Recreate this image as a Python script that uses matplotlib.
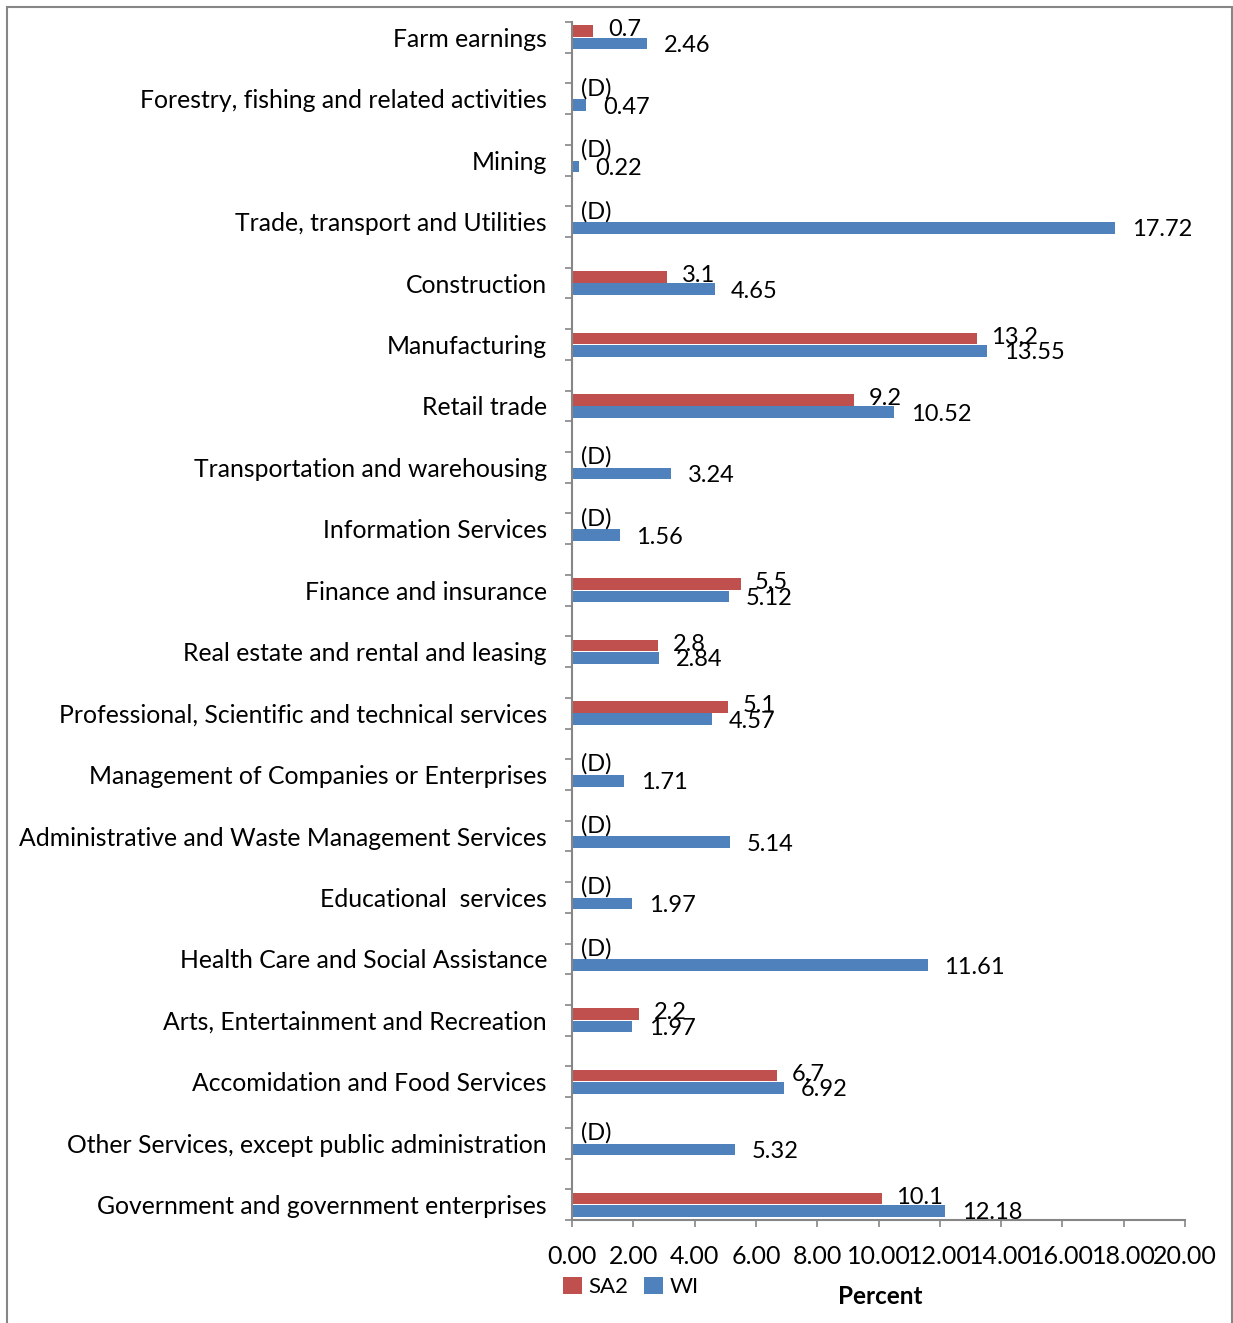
import matplotlib
matplotlib.use("Agg")
import matplotlib.pyplot as plt
from matplotlib.patches import Rectangle

plt.rcParams['font.family'] = ['Lato', 'DejaVu Sans']

categories = [
    "Farm earnings",
    "Forestry, fishing and related activities",
    "Mining",
    "Trade, transport and Utilities",
    "Construction",
    "Manufacturing",
    "Retail trade",
    "Transportation and warehousing",
    "Information Services",
    "Finance and insurance",
    "Real estate and rental and leasing",
    "Professional, Scientific and technical services",
    "Management of Companies or Enterprises",
    "Administrative and Waste Management Services",
    "Educational  services",
    "Health Care and Social Assistance",
    "Arts, Entertainment and Recreation",
    "Accomidation and Food Services",
    "Other Services, except public administration",
    "Government and government enterprises",
]
# None = suppressed value, shown as "(D)"
sa2 = [0.7, None, None, None, 3.1, 13.2, 9.2, None, None, 5.5,
       2.8, 5.1, None, None, None, None, 2.2, 6.7, None, 10.1]
wi = [2.46, 0.47, 0.22, 17.72, 4.65, 13.55, 10.52, 3.24, 1.56, 5.12,
      2.84, 4.57, 1.71, 5.14, 1.97, 11.61, 1.97, 6.92, 5.32, 12.18]
x_ticks = [0, 2, 4, 6, 8, 10, 12, 14, 16, 18, 20]

red = '#C0504D'
blue = '#4F81BD'
gray = '#868686'
fs_cat = 17.8
fs_val = 17

W, H = 1233, 1323
fig = plt.figure(figsize=(W / 100, H / 100), dpi=100)
ax = fig.add_axes([572 / W, 1 - 1220 / H, (1185 - 572) / W, (1220 - 22) / H])

# every category sits in its own slot with an empty slot between them
ypos = [2 * i for i in range(len(categories))]
sa2_vals = [v if v is not None else 0 for v in sa2]
bh = 0.38
b1 = ax.barh([y - 0.2 for y in ypos], sa2_vals, height=bh, color=red, label='SA2')
b2 = ax.barh([y + 0.2 for y in ypos], wi, height=bh, color=blue, label='WI')

for y, v in zip(ypos, sa2):
    if v is None:
        ax.annotate("(D)", (0, y - 0.2), xytext=(6.5, 3), textcoords='offset points',
                    ha='left', va='center', fontsize=fs_val)
    else:
        ax.annotate(f"{v:g}", (v, y - 0.2), xytext=(10.5, 1), textcoords='offset points',
                    ha='left', va='center', fontsize=fs_val)
for y, v in zip(ypos, wi):
    ax.annotate(f"{v:g}", (v, y + 0.2), xytext=(12, -1.5), textcoords='offset points',
                ha='left', va='center', fontsize=fs_val)

ax.set_xlim(0, 20)
ax.set_ylim(38.5, -0.5)
ax.set_xticks(x_ticks)
ax.set_xticklabels([f"{t:.2f}" for t in x_ticks], fontsize=18)
ax.set_yticks([k + 0.5 for k in range(-1, 39)])
ax.set_yticklabels([])
ax.set_yticks(ypos, minor=True)
ax.set_yticklabels(categories, minor=True, fontsize=fs_cat)
ax.tick_params(axis='y', which='major', length=5, width=1.2, color=gray, direction='out')
ax.tick_params(axis='y', which='minor', length=0, pad=18)
ax.tick_params(axis='x', length=5, width=1.2, color=gray, direction='out', pad=13)

for s in ['top', 'right']:
    ax.spines[s].set_visible(False)
for s in ['left', 'bottom']:
    ax.spines[s].set_color(gray)
    ax.spines[s].set_linewidth(1.5)

fig.legend(handles=[b1, b2], labels=['SA2', 'WI'], ncol=2, loc='center left',
           bbox_to_anchor=(563 / W, 1 - 1287 / H), frameon=False, fontsize=16,
           borderaxespad=0, borderpad=0,
           handlelength=0.85, handleheight=0.85, handletextpad=0.3, columnspacing=0.7)
fig.text(880 / W, 1 - 1297 / H, "Percent", fontsize=17.5, fontweight='bold',
         ha='center', va='center')

fig.patches.append(Rectangle((7 / W, -0.02), (1232 - 7) / W, 1 - 7 / H + 0.02,
                             transform=fig.transFigure, fill=False,
                             edgecolor=gray, linewidth=1.5))

fig.savefig("out.png", dpi=100)
